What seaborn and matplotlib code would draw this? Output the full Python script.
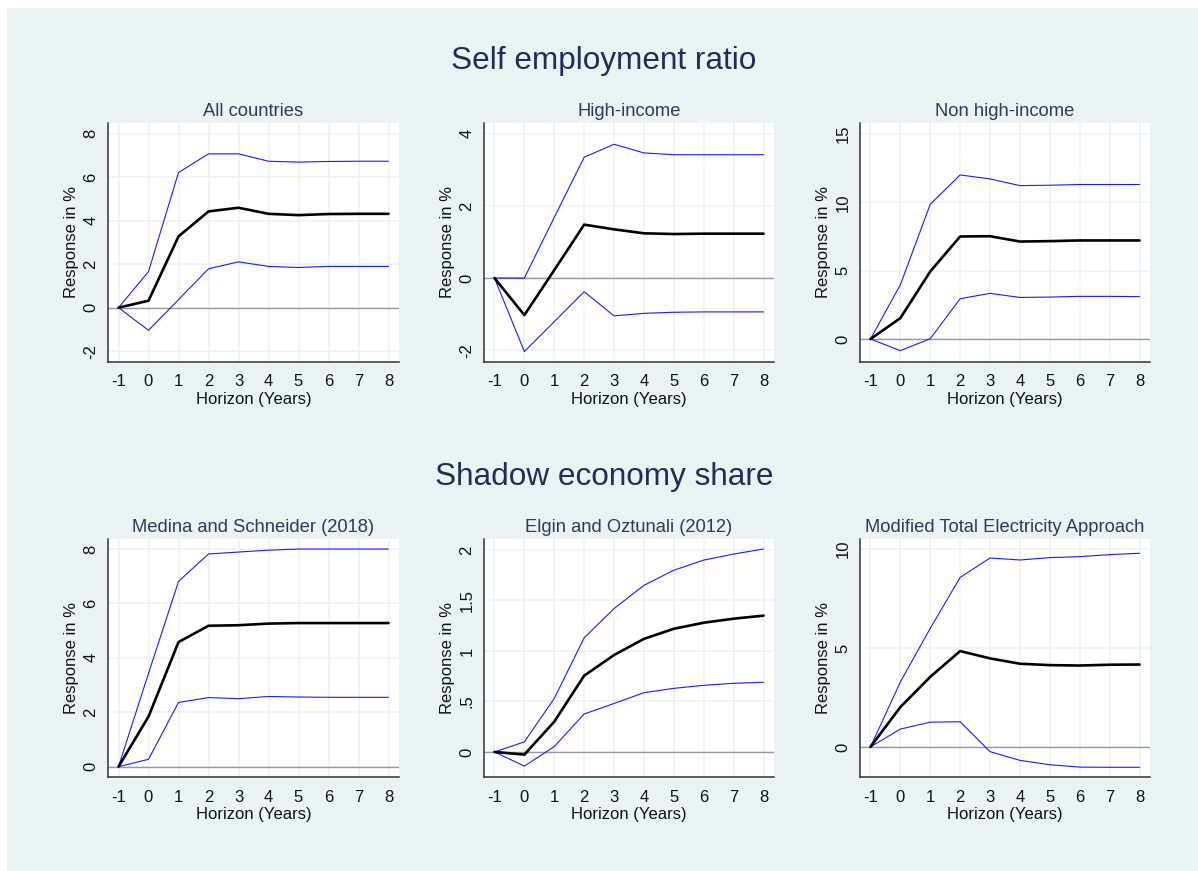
import matplotlib
matplotlib.use("Agg")
import matplotlib.pyplot as plt
from matplotlib.patches import Rectangle
from matplotlib.ticker import FuncFormatter
import numpy as np
import pandas as pd
import seaborn as sns

# Horizon (years after the shock)
horizon = [-1, 0, 1, 2, 3, 4, 5, 6, 7, 8]

# Self employment ratio: point estimate, upper and lower bands
all_irf = [0, 0.32, 3.28, 4.43, 4.60, 4.32, 4.26, 4.31, 4.32, 4.32]
all_hi = [0, 1.66, 6.22, 7.08, 7.08, 6.74, 6.70, 6.73, 6.74, 6.74]
all_lo = [0, -1.04, 0.37, 1.79, 2.11, 1.90, 1.85, 1.90, 1.90, 1.90]

hinc_irf = [0, -1.03, 0.22, 1.48, 1.35, 1.24, 1.22, 1.23, 1.23, 1.23]
hinc_hi = [0, 0.0, 1.68, 3.35, 3.71, 3.47, 3.42, 3.42, 3.42, 3.42]
hinc_lo = [0, -2.04, -1.21, -0.38, -1.05, -0.98, -0.95, -0.94, -0.94, -0.94]

nhinc_irf = [0, 1.53, 4.94, 7.50, 7.52, 7.13, 7.16, 7.21, 7.21, 7.21]
nhinc_hi = [0, 3.97, 9.86, 12.00, 11.71, 11.22, 11.25, 11.30, 11.30, 11.30]
nhinc_lo = [0, -0.85, 0.02, 2.95, 3.34, 3.04, 3.07, 3.12, 3.12, 3.10]

# Shadow economy share: point estimate, upper and lower bands
ms_irf = [0, 1.84, 4.58, 5.18, 5.20, 5.26, 5.28, 5.28, 5.28, 5.28]
ms_hi = [0, 3.43, 6.81, 7.82, 7.89, 7.96, 8.00, 8.00, 8.00, 8.00]
ms_lo = [0, 0.27, 2.36, 2.54, 2.50, 2.58, 2.56, 2.55, 2.55, 2.55]

eo_irf = [0, -0.026, 0.30, 0.755, 0.96, 1.12, 1.22, 1.28, 1.32, 1.35]
eo_hi = [0, 0.10, 0.53, 1.13, 1.42, 1.65, 1.80, 1.90, 1.96, 2.01]
eo_lo = [0, -0.14, 0.053, 0.376, 0.48, 0.587, 0.63, 0.66, 0.68, 0.69]

meta_irf = [0, 2.01, 3.54, 4.84, 4.47, 4.20, 4.13, 4.11, 4.15, 4.16]
meta_hi = [0, 3.28, 5.99, 8.56, 9.54, 9.44, 9.56, 9.61, 9.71, 9.78]
meta_lo = [0, 0.90, 1.25, 1.27, -0.24, -0.68, -0.90, -1.02, -1.03, -1.03]

panel_titles = ["All countries", "High-income", "Non high-income",
                "Medina and Schneider (2018)", "Elgin and Oztunali (2012)",
                "Modified Total Electricity Approach"]
section_titles = ["Self employment ratio", "Shadow economy share"]
x_label = "Horizon (Years)"
y_label = "Response in %"

series = [
    (all_irf, all_hi, all_lo),
    (hinc_irf, hinc_hi, hinc_lo),
    (nhinc_irf, nhinc_hi, nhinc_lo),
    (ms_irf, ms_hi, ms_lo),
    (eo_irf, eo_hi, eo_lo),
    (meta_irf, meta_hi, meta_lo),
]
y_ticks = [
    [-2, 0, 2, 4, 6, 8],
    [-2, 0, 2, 4],
    [0, 5, 10, 15],
    [0, 2, 4, 6, 8],
    [0, 0.5, 1, 1.5, 2],
    [0, 5, 10],
]
y_limits = [(-2.5, 8.5), (-2.33, 4.3), (-1.68, 15.8),
            (-0.38, 8.37), (-0.248, 2.109), (-1.52, 10.5)]

sns.set_theme(style="white")
plt.rcParams["font.family"] = ["Liberation Sans", "DejaVu Sans"]
plt.rcParams["axes.unicode_minus"] = False

W, H = 1198, 871
fig = plt.figure(figsize=(W / 100, H / 100), dpi=100, facecolor="white")

BG = "#EAF2F3"
fig.patches.append(Rectangle((7 / W, 0), 1 - 7 / W, (H - 8) / H,
                             transform=fig.transFigure, facecolor=BG,
                             edgecolor="none", zorder=0))

col_px = [(108, 399), (484, 774), (860, 1150)]
row_px = [(123, 362), (539, 777)]

title_color = "#1f2d57"
sub_color = "#2c3a5c"
axis_color = "#333333"
text_color = "#111111"


def stata_fmt(v, pos):
    s = ("%g" % v)
    if s.startswith("0."):
        s = s[1:]
    elif s.startswith("-0."):
        s = "-" + s[2:]
    return s


for i, (irf, hi, lo) in enumerate(series):
    r, c = divmod(i, 3)
    x0, x1 = col_px[c]
    t, b = row_px[r]
    ax = fig.add_axes([x0 / W, 1 - b / H, (x1 - x0) / W, (b - t) / H])
    ax.set_facecolor("white")
    ax.set_zorder(2)

    df = pd.DataFrame({"h": horizon * 3,
                       "v": list(hi) + list(lo) + list(irf),
                       "s": ["upper"] * 10 + ["lower"] * 10 + ["irf"] * 10})

    for xv in horizon:
        ax.axvline(xv, color=BG, lw=1.1, zorder=0)
    for yv in y_ticks[i]:
        ax.axhline(yv, color=BG, lw=1.1, zorder=0)
    ax.axhline(0, color="#9a9a9a", lw=1.0, zorder=1)

    sns.lineplot(data=df[df.s == "upper"], x="h", y="v", ax=ax,
                 color="#1a1aff", lw=0.8, zorder=3)
    sns.lineplot(data=df[df.s == "lower"], x="h", y="v", ax=ax,
                 color="#1a1aff", lw=0.8, zorder=3)
    sns.lineplot(data=df[df.s == "irf"], x="h", y="v", ax=ax,
                 color="black", lw=1.9, zorder=4)

    ax.set_xlim(-1.35, 8.35)
    ax.set_ylim(*y_limits[i])
    ax.set_xticks(horizon)
    ax.set_yticks(y_ticks[i])
    ax.yaxis.set_major_formatter(FuncFormatter(stata_fmt))
    ax.grid(False)

    for side in ("top", "right"):
        ax.spines[side].set_visible(False)
    for side in ("left", "bottom"):
        ax.spines[side].set_color(axis_color)
        ax.spines[side].set_linewidth(1.1)

    ax.tick_params(axis="both", direction="out", length=5, width=0.9,
                   color=axis_color, labelsize=12, labelcolor=text_color)
    ax.tick_params(axis="x", pad=4)
    ax.tick_params(axis="y", pad=2)
    plt.setp(ax.get_yticklabels(), rotation=90, va="center")

    ax.set_xlabel(x_label, fontsize=12, color=text_color, labelpad=1.5)
    ax.set_ylabel(y_label, fontsize=12, color=text_color, labelpad=3)
    ax.set_title(panel_titles[i], fontsize=13.2, color=sub_color, pad=5)

fig.text(604 / W, 1 - 69 / H, section_titles[0], ha="center", va="baseline",
         fontsize=22.7, color=title_color)
fig.text(604 / W, 1 - 485 / H, section_titles[1], ha="center", va="baseline",
         fontsize=22.7, color=title_color)

fig.savefig("out.png", dpi=100, facecolor="white")
